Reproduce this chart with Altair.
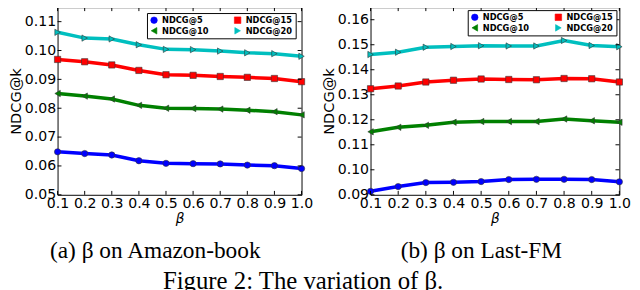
import altair as alt
import pandas as pd

beta = [0.1, 0.2, 0.3, 0.4, 0.5, 0.6, 0.7, 0.8, 0.9, 1.0]
series = ["NDCG@5", "NDCG@10", "NDCG@15", "NDCG@20"]
colors = ["#0000ff", "#008000", "#ff0000", "#00bfbf"]
shapes = ["circle", "triangle-left", "square", "triangle-right"]

# (a) Amazon-book
amazon_5 = [0.0649, 0.0643, 0.0638, 0.0618, 0.0609, 0.0608, 0.0607, 0.0603, 0.0601, 0.0591]
amazon_10 = [0.0851, 0.0842, 0.0832, 0.0810, 0.0800, 0.0799, 0.0797, 0.0793, 0.0788, 0.0777]
amazon_15 = [0.0969, 0.0961, 0.0950, 0.0931, 0.0916, 0.0914, 0.0910, 0.0907, 0.0903, 0.0892]
amazon_20 = [0.1063, 0.1043, 0.1040, 0.1020, 0.1004, 0.1003, 0.0998, 0.0992, 0.0989, 0.0980]
amazon_yticks = [0.05, 0.06, 0.07, 0.08, 0.09, 0.10, 0.11]
amazon_domain = [0.05, 0.115]

# (b) Last-FM
lastfm_5 = [0.0914, 0.0933, 0.0949, 0.0950, 0.0953, 0.0961, 0.0962, 0.0962, 0.0961, 0.0952]
lastfm_10 = [0.1152, 0.1170, 0.1178, 0.1190, 0.1193, 0.1193, 0.1193, 0.1203, 0.1196, 0.1190]
lastfm_15 = [0.1324, 0.1335, 0.1351, 0.1358, 0.1363, 0.1361, 0.1360, 0.1365, 0.1364, 0.1351]
lastfm_20 = [0.1461, 0.1470, 0.1490, 0.1493, 0.1496, 0.1495, 0.1495, 0.1517, 0.1497, 0.1492]
lastfm_yticks = [0.09, 0.10, 0.11, 0.12, 0.13, 0.14, 0.15, 0.16]
lastfm_domain = [0.09, 0.165]


def panel(vals, ydom, yticks, caption, width, dx, legend_offset):
    rows = []
    for s, v in zip(series, vals):
        for b, y in zip(beta, v):
            rows.append({"beta": b, "value": y, "series": s})
    df = pd.DataFrame(rows)

    xenc = alt.X("beta:Q", scale=alt.Scale(domain=[0.1, 1.0], nice=False, zero=False),
                 axis=alt.Axis(values=beta, format=".1f", title="β", labelPadding=2,
                               titlePadding=2, titleFont="DejaVu Sans",
                               titleFontStyle="italic", titleFontSize=14,
                               labelOverlap=False, labelFlush=False))
    yenc = alt.Y("value:Q", scale=alt.Scale(domain=ydom, nice=False, zero=False),
                 axis=alt.Axis(values=yticks, format=".2f", title="NDCG@k", labelPadding=2,
                               titlePadding=1, titleFontSize=15,
                               labelOverlap=False, labelFlush=False))
    color = alt.Color("series:N", scale=alt.Scale(domain=series, range=colors),
                      legend=alt.Legend(title=None, orient="top-right", columns=2,
                                        offset=legend_offset, strokeColor="black",
                                        fillColor="white", padding=3, columnPadding=24,
                                        rowPadding=1, labelFont="DejaVu Sans",
                                        labelFontWeight="bold", labelFontSize=8.5,
                                        symbolSize=45, symbolStrokeColor="#333",
                                        symbolStrokeWidth=0.6, cornerRadius=0))
    shape = alt.Shape("series:N", scale=alt.Scale(domain=series, range=shapes))
    lines = alt.Chart(df).mark_line(strokeWidth=3.6).encode(
        x=xenc, y=yenc, color=color, order=alt.Order("beta:Q"))
    points = alt.Chart(df).mark_point(filled=True, size=42, opacity=1, stroke="#333",
                                      strokeWidth=0.6).encode(
        x=xenc, y=yenc, color=color, shape=shape)

    # inward ticks on all four sides, placed through the same scales
    xb = pd.DataFrame({"beta": beta, "value": [ydom[0]] * len(beta)})
    xtop = pd.DataFrame({"beta": beta, "value": [ydom[1]] * len(beta)})
    yl = pd.DataFrame({"value": yticks, "beta": [0.1] * len(yticks)})
    yr = pd.DataFrame({"value": yticks, "beta": [1.0] * len(yticks)})
    tb = alt.Chart(xb).mark_rule(color="black", strokeWidth=1, y2Offset=-4).encode(
        x=xenc, y=yenc, y2=alt.Y2("value"))
    tt = alt.Chart(xtop).mark_rule(color="black", strokeWidth=1, y2Offset=4).encode(
        x=xenc, y=yenc, y2=alt.Y2("value"))
    tl = alt.Chart(yl).mark_rule(color="black", strokeWidth=1, x2Offset=4).encode(
        x=xenc, x2=alt.X2("beta"), y=yenc)
    tr = alt.Chart(yr).mark_rule(color="black", strokeWidth=1, x2Offset=-4).encode(
        x=xenc, x2=alt.X2("beta"), y=yenc)

    return alt.layer(lines, points, tb, tt, tl, tr).properties(
        width=width, height=193,
        title=alt.TitleParams(caption, orient="bottom", anchor="middle", frame="group",
                              dx=dx, offset=14, font="Liberation Serif", fontSize=24,
                              fontWeight="normal", color="black"))


left = panel([amazon_5, amazon_10, amazon_15, amazon_20], amazon_domain, amazon_yticks,
             "(a) β on Amazon-book", 251, -25, 6)
right = panel([lastfm_5, lastfm_10, lastfm_15, lastfm_20], lastfm_domain, lastfm_yticks,
              "(b) β on Last-FM", 256, -14, 3)

chart = alt.hconcat(left, right, spacing=71, bounds="flush").resolve_scale(
    color="independent", shape="independent").properties(
    title=alt.TitleParams("Figure 2: The variation of β.", orient="bottom", anchor="middle",
                          dx=-17, offset=7, font="Liberation Serif", fontSize=25.5,
                          fontWeight="normal", color="black"),
    padding={"left": 0, "top": -6, "right": 0, "bottom": 0},
    background="white",
).configure_view(stroke="black", strokeWidth=1).configure_axis(
    domain=False, ticks=False, grid=False, labelFont="DejaVu Sans", labelFontSize=14.5,
    labelColor="black", labelOverlap=False, labelFlush=False, titleFont="DejaVu Sans",
    titleFontWeight="normal", titleColor="black"
)

chart.save("out.html", embed_options={"renderer": "svg", "actions": False})
